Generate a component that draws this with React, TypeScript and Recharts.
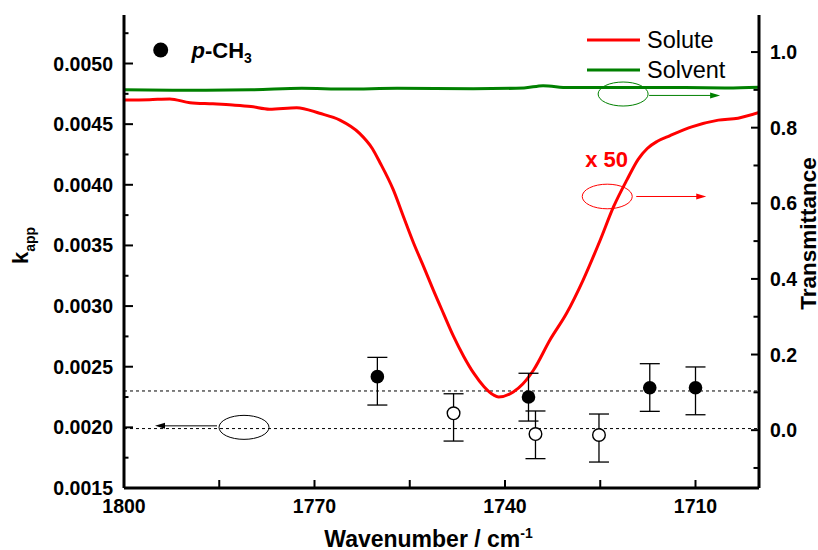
import React from 'react';
import {
  ComposedChart,
  Line,
  Scatter,
  XAxis,
  YAxis,
  ErrorBar,
  ReferenceLine,
  ReferenceDot,
  Legend,
  Label,
} from 'recharts';

// ---------- data ----------
const soluteWn = [1800, 1796, 1792.8, 1789.6, 1786, 1782.9, 1780, 1777.1, 1772.8, 1769.2, 1766.0, 1762.9, 1760.9, 1759.7, 1757.6, 1756.0, 1754.4, 1752.8, 1751.3, 1749.7, 1748.1, 1746.5, 1744.9, 1743.3, 1741.8, 1741.0, 1738.7, 1737.2, 1735.5, 1732.9, 1730.3, 1727.7, 1725.0, 1722.9, 1720.8, 1719.0, 1717.6, 1716.0, 1714.0, 1710.6, 1706.4, 1703.3, 1700];
const soluteT = [0.873, 0.874, 0.876, 0.866, 0.863, 0.86, 0.856, 0.849, 0.853, 0.838, 0.82, 0.785, 0.745, 0.708, 0.636, 0.565, 0.495, 0.432, 0.371, 0.309, 0.248, 0.195, 0.15, 0.115, 0.093, 0.088, 0.101, 0.122, 0.159, 0.239, 0.309, 0.397, 0.503, 0.591, 0.662, 0.717, 0.745, 0.764, 0.779, 0.802, 0.82, 0.825, 0.84];

const solventWn = [1800, 1790, 1780, 1772, 1765, 1757, 1745, 1737, 1734, 1730, 1720, 1712, 1705, 1700];
const solventT = [0.9, 0.899, 0.9, 0.904, 0.902, 0.904, 0.903, 0.905, 0.911, 0.906, 0.906, 0.906, 0.905, 0.907];

const filledWn = [1760.1, 1736.3, 1717.2, 1710.0];
const filledK = [0.002418, 0.00225, 0.002327, 0.002327];
const filledTop = [0.002577, 0.002446, 0.002525, 0.002498];
const filledBottom = [0.002184, 0.002052, 0.002132, 0.002104];

const openWn = [1748.1, 1735.2, 1725.2];
const openK = [0.002116, 0.001945, 0.001937];
const openTop = [0.002277, 0.002135, 0.00211];
const openBottom = [0.001887, 0.001742, 0.001714];

const refLevels = [0.0023, 0.00199];

const xTicks = [1800, 1785, 1770, 1755, 1740, 1725, 1710];
const xLabels = [1800, 1770, 1740, 1710];
const leftTicks = [0.0015, 0.00175, 0.002, 0.00225, 0.0025, 0.00275, 0.003, 0.00325, 0.0035, 0.00375, 0.004, 0.00425, 0.0045, 0.00475, 0.005, 0.00525];
const leftLabels = [0.0015, 0.002, 0.0025, 0.003, 0.0035, 0.004, 0.0045, 0.005];
const rightTicks = [-0.1, 0, 0.1, 0.2, 0.3, 0.4, 0.5, 0.6, 0.7, 0.8, 0.9, 1.0];
const rightLabels = [0, 0.2, 0.4, 0.6, 0.8, 1.0];

// ---------- tables ----------
const soluteData = soluteWn.map((x, i) => ({ x, t: soluteT[i] }));
const solventData = solventWn.map((x, i) => ({ x, t: solventT[i] }));
const filledData = filledWn.map((x, i) => ({ x, k: filledK[i], err: [filledK[i] - filledBottom[i], filledTop[i] - filledK[i]] }));
const openData = openWn.map((x, i) => ({ x, k: openK[i], err: [openK[i] - openBottom[i], openTop[i] - openK[i]] }));

const F = '"Liberation Sans", Arial, Helvetica, sans-serif';
const near = (a: number, list: number[]) => list.some((v) => Math.abs(v - a) < 1e-9);
const TICK_FS = 19.5;

const BottomTick = (p: any) => {
  const { x, y, payload } = p;
  const v = payload.value;
  return (
    <g>
      <line x1={x} x2={x} y1={y} y2={y - 8} stroke="#000" strokeWidth={2} />
      {near(v, xLabels) && (
        <text x={x} y={y + 25} textAnchor="middle" fontFamily={F} fontWeight="bold" fontSize={TICK_FS} fill="#000">
          {v}
        </text>
      )}
    </g>
  );
};

const TopTick = (p: any) => {
  const { x, y } = p;
  return <line x1={x} x2={x} y1={y} y2={y + 8} stroke="#000" strokeWidth={2} />;
};

const LeftTick = (p: any) => {
  const { x, y, payload } = p;
  const v = payload.value;
  const major = near(v, leftLabels);
  return (
    <g>
      <line x1={x} x2={x + (major ? 9 : 4.5)} y1={y} y2={y} stroke="#000" strokeWidth={2} />
      {major && (
        <text x={x - 11} y={y + 7} textAnchor="end" fontFamily={F} fontWeight="bold" fontSize={TICK_FS} fill="#000">
          {v.toFixed(4)}
        </text>
      )}
    </g>
  );
};

const RightTick = (p: any) => {
  const { x, y, payload } = p;
  const v = payload.value;
  const major = near(v, rightLabels);
  return (
    <g>
      <line x1={x} x2={x - (major ? 8 : 5.5)} y1={y} y2={y} stroke="#000" strokeWidth={2} />
      {major && (
        <text x={x + 11} y={y + 7} textAnchor="start" fontFamily={F} fontWeight="bold" fontSize={TICK_FS} fill="#000">
          {v.toFixed(1)}
        </text>
      )}
    </g>
  );
};

const XTitle = (p: any) => {
  const vb = p.viewBox;
  return (
    <text x={vb.x + vb.width / 2 - 13} y={vb.y + 58.5} textAnchor="middle" fontFamily={F} fontWeight="bold" fontSize={23} fill="#000">
      <tspan>Wavenumber / cm</tspan>
      <tspan dy={-9} fontSize={14}>-1</tspan>
    </text>
  );
};

const LeftTitle = (p: any) => {
  const vb = p.viewBox;
  const cx = 28;
  const cy = vb.y + vb.height / 2 - 6;
  return (
    <text x={cx} y={cy} transform={`rotate(-90 ${cx} ${cy})`} textAnchor="middle" fontFamily={F} fontWeight="bold" fontSize={22} fill="#000">
      <tspan>k</tspan>
      <tspan dy={7} fontSize={14}>app</tspan>
    </text>
  );
};

const RightTitle = (p: any) => {
  const vb = p.viewBox;
  const cx = vb.x + vb.width - 2.5;
  const cy = vb.y + vb.height / 2 - 18;
  return (
    <text x={cx} y={cy} transform={`rotate(-90 ${cx} ${cy})`} textAnchor="middle" fontFamily={F} fontWeight="bold" fontSize={22.5} fill="#000">
      Transmittance
    </text>
  );
};

const FilledDot = (p: any) => <circle cx={p.cx} cy={p.cy} r={6.8} fill="#000" />;
const OpenDot = (p: any) => <circle cx={p.cx} cy={p.cy} r={6.3} fill="#fff" stroke="#000" strokeWidth={1.4} />;

const arrowRight = (x1: number, x2: number, y: number, c: string) => (
  <g>
    <line x1={x1} x2={x2 - 8} y1={y} y2={y} stroke={c} strokeWidth={1} />
    <polygon points={`${x2},${y} ${x2 - 10},${y - 3} ${x2 - 10},${y + 3}`} fill={c} />
  </g>
);
const arrowLeft = (x1: number, x2: number, y: number, c: string) => (
  <g>
    <line x1={x1} x2={x2 + 8} y1={y} y2={y} stroke={c} strokeWidth={1} />
    <polygon points={`${x2},${y} ${x2 + 10},${y - 3} ${x2 + 10},${y + 3}`} fill={c} />
  </g>
);

const BlackNote = (p: any) => {
  const { cx, cy } = p;
  return (
    <g>
      <ellipse cx={cx} cy={cy} rx={25} ry={12} fill="none" stroke="#000" strokeWidth={1} />
      {arrowLeft(cx - 27, cx - 89, cy - 1.5, '#000')}
    </g>
  );
};

const RedNote = (p: any) => {
  const { cx, cy } = p;
  return (
    <g>
      <ellipse cx={cx} cy={cy} rx={25} ry={12.3} fill="none" stroke="#ff0000" strokeWidth={1} />
      {arrowRight(cx + 29, cx + 99, cy, '#ff0000')}
      <text x={cx - 22} y={cy - 29} fontFamily={F} fontWeight="bold" fontSize={22} fill="#ff0000">
        x 50
      </text>
    </g>
  );
};

const GreenNote = (p: any) => {
  const { cx, cy } = p;
  return (
    <g>
      <ellipse cx={cx} cy={cy} rx={25} ry={12} fill="none" stroke="#008000" strokeWidth={1} />
      {arrowRight(cx + 26, cx + 97, cy + 1.4, '#008000')}
    </g>
  );
};

const renderLegend = () => (
  <svg width={818} height={100} style={{ position: 'absolute', left: 0, top: 0, overflow: 'visible' }}>
    <circle cx={160.7} cy={50} r={7.5} fill="#000" />
    <text x={191.5} y={58} fontFamily={F} fontWeight="bold" fontSize={22} fill="#000">
      <tspan fontStyle="italic">p</tspan>
      <tspan>-CH</tspan>
      <tspan dy={5} fontSize={14}>3</tspan>
    </text>
    <line x1={587} x2={640} y1={40} y2={40} stroke="#ff0000" strokeWidth={3} />
    <text x={647} y={48} fontFamily={F} fontSize={23.5} fill="#000">Solute</text>
    <line x1={587} x2={640} y1={70} y2={70} stroke="#008000" strokeWidth={3} />
    <text x={647} y={78} fontFamily={F} fontSize={23.5} fill="#000">Solvent</text>
  </svg>
);

export default function App() {
  return (
    <div style={{ position: 'absolute', left: 0, top: 0, width: 818, height: 550 }}>
      <ComposedChart width={818} height={550} margin={{ top: 15, right: 0, bottom: 0, left: 0 }}>
        <XAxis
          xAxisId="bottom"
          dataKey="x"
          type="number"
          domain={[1700, 1800]}
          reversed
          ticks={xTicks}
          interval={0}
          height={62}
          tickSize={0}
          tickMargin={0}
          tickLine={false}
          tick={<BottomTick />}
          axisLine={{ stroke: '#000', strokeWidth: 3 }}
          allowDataOverflow
          label={<Label content={XTitle} />}
        />
        <XAxis
          xAxisId="top"
          orientation="top"
          dataKey="x"
          type="number"
          domain={[1700, 1800]}
          reversed
          ticks={xTicks}
          interval={0}
          height={0}
          tickSize={0}
          tickMargin={0}
          tickLine={false}
          tick={<TopTick />}
          axisLine={{ stroke: '#000', strokeWidth: 3 }}
          allowDataOverflow
        />
        <YAxis
          yAxisId="left"
          type="number"
          domain={[0.0015, 0.0054]}
          ticks={leftTicks}
          interval={0}
          width={124}
          tickSize={0}
          tickMargin={0}
          tickLine={false}
          tick={<LeftTick />}
          axisLine={{ stroke: '#000', strokeWidth: 3 }}
          allowDataOverflow
          label={<Label content={LeftTitle} />}
        />
        <YAxis
          yAxisId="right"
          orientation="right"
          type="number"
          domain={[-0.153, 1.098]}
          ticks={rightTicks}
          interval={0}
          width={59}
          tickSize={0}
          tickMargin={0}
          tickLine={false}
          tick={<RightTick />}
          axisLine={{ stroke: '#000', strokeWidth: 3 }}
          allowDataOverflow
          label={<Label content={RightTitle} />}
        />
        {refLevels.map((v) => (
          <ReferenceLine key={v} xAxisId="bottom" yAxisId="left" y={v} stroke="#000" strokeWidth={1} strokeDasharray="3 3" />
        ))}
        <Line
          xAxisId="bottom"
          yAxisId="right"
          data={solventData}
          dataKey="t"
          type="monotone"
          stroke="#008000"
          strokeWidth={3}
          dot={false}
          isAnimationActive={false}
        />
        <Line
          xAxisId="bottom"
          yAxisId="right"
          data={soluteData}
          dataKey="t"
          type="monotone"
          stroke="#ff0000"
          strokeWidth={3}
          dot={false}
          isAnimationActive={false}
        />
        <Scatter xAxisId="bottom" yAxisId="left" data={openData} dataKey="k" shape={OpenDot} isAnimationActive={false}>
          <ErrorBar dataKey="err" direction="y" width={10} stroke="#000" strokeWidth={1.3} />
        </Scatter>
        <Scatter xAxisId="bottom" yAxisId="left" data={filledData} dataKey="k" shape={FilledDot} isAnimationActive={false}>
          <ErrorBar dataKey="err" direction="y" width={10} stroke="#000" strokeWidth={1.3} />
        </Scatter>
        <ReferenceDot xAxisId="bottom" yAxisId="left" x={1781.1} y={0.002} shape={BlackNote} />
        <ReferenceDot xAxisId="bottom" yAxisId="right" x={1723.9} y={0.618} shape={RedNote} />
        <ReferenceDot xAxisId="bottom" yAxisId="right" x={1721.4} y={0.889} shape={GreenNote} />
        <Legend
          content={renderLegend}
          layout="vertical"
          align="center"
          verticalAlign="middle"
          wrapperStyle={{ position: 'absolute', left: 0, top: 0, width: 818, height: 0 }}
        />
      </ComposedChart>
    </div>
  );
}
